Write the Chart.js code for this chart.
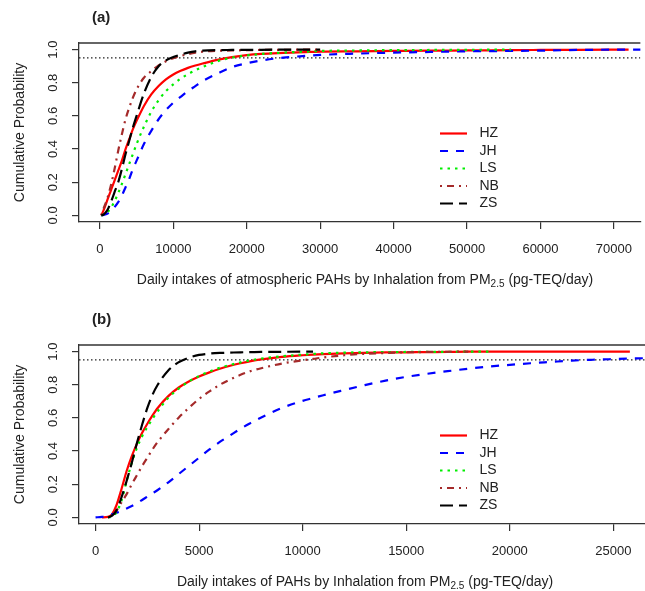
<!DOCTYPE html>
<html>
<head>
<meta charset="utf-8">
<script src="https://cdn.jsdelivr.net/npm/chart.js@4.4.0/dist/chart.umd.min.js"></script>
<style>
  body { margin: 0; background: #fff; }
  #wrap { position: relative; width: 645px; height: 591px; }
  canvas { position: absolute; left: 0; }
</style>
</head>
<body>
<div id="wrap">
  <canvas id="chartA" width="645" height="295" style="top:0"></canvas>
  <canvas id="chartB" width="645" height="296" style="top:295px"></canvas>
</div>
<script>
// series names (same in both panels)
const seriesNames = ['HZ', 'JH', 'LS', 'NB', 'ZS'];

// panel (a): intakes (pg-TEQ/day) and cumulative probabilities
const intakeA = [200, 500, 1000, 1500, 2000, 2500, 3000, 3500, 4000, 4500, 5000, 6000, 7000, 8000, 9000, 10000,
  11000, 12000, 13000, 14000, 16000, 18000, 20000, 22000, 25000, 28000, 30000, 35000, 40000, 45000, 50000,
  56000, 60000, 65000, 72000, 76000];
const hzA = [0, 0.03, 0.09, 0.15, 0.21, 0.27, 0.33, 0.40, 0.46, 0.52, 0.57, 0.66, 0.73, 0.78, 0.82, 0.85,
  0.872, 0.89, 0.904, 0.916, 0.938, 0.955, 0.967, 0.974, 0.98, 0.985, 0.988, 0.99, 0.992, 0.994, 0.995,
  0.997, 0.998, 0.999, 1.0, null];
const jhA = [0, 0.003, 0.01, 0.025, 0.05, 0.08, 0.12, 0.17, 0.22, 0.28, 0.33, 0.43, 0.51, 0.58, 0.635, 0.68,
  0.715, 0.75, 0.78, 0.81, 0.855, 0.895, 0.918, 0.935, 0.952, 0.962, 0.968, 0.976, 0.982, 0.986, 0.99,
  0.992, 0.994, 0.998, 1.0, 1.0];
const lsA = [0, 0.005, 0.02, 0.045, 0.085, 0.135, 0.19, 0.25, 0.31, 0.37, 0.43, 0.535, 0.625, 0.695, 0.75, 0.79,
  0.825, 0.852, 0.875, 0.895, 0.93, 0.952, 0.965, 0.974, 0.982, 0.988, 0.992, 0.995, 0.997, 0.998, 0.999,
  1.0, null, null, null, null];
const nbA = [0, 0.04, 0.1, 0.18, 0.28, 0.39, 0.49, 0.58, 0.65, 0.71, 0.76, 0.83, 0.87, 0.905, 0.93, 0.948,
  0.962, 0.973, 0.982, 0.988, 0.993, 0.995, 0.997, 0.998, 0.999, 1.0, 1.0, null, null, null, null,
  null, null, null, null, null];
const zsA = [0, 0.005, 0.03, 0.08, 0.14, 0.2, 0.28, 0.37, 0.45, 0.53, 0.6, 0.735, 0.835, 0.9, 0.935, 0.955,
  0.97, 0.982, 0.99, 0.994, 0.997, 0.998, 0.999, 0.999, 1.0, 1.0, 1.0, null, null, null, null,
  null, null, null, null, null];
const xTicksA = [0, 10000, 20000, 30000, 40000, 50000, 60000, 70000];

// panel (b)
const intakeB = [0, 300, 600, 800, 1000, 1250, 1500, 1750, 2000, 2250, 2500, 2750, 3000, 3500, 4000, 4500,
  5000, 5500, 6000, 6500, 7000, 7500, 8000, 9000, 10000, 10500, 11000, 12000, 13000, 14000, 15000, 16000,
  17000, 18000, 19000, 20000, 21000, 22000, 23000, 24000, 25000, 25800, 27000];
const hzB = [null, 0, 0.003, 0.02, 0.07, 0.17, 0.28, 0.37, 0.445, 0.51, 0.565, 0.615, 0.66, 0.73, 0.782, 0.82,
  0.85, 0.875, 0.897, 0.915, 0.93, 0.943, 0.953, 0.968, 0.978, 0.982, 0.985, 0.99, 0.993, 0.995, 0.996, 0.997,
  0.998, 1.0, 1.0, 1.0, 1.0, 1.0, 1.0, 1.0, 1.0, 1.0, null];
const jhB = [0, 0.003, 0.01, 0.018, 0.027, 0.04, 0.054, 0.069, 0.086, 0.105, 0.125, 0.145, 0.165, 0.21, 0.26, 0.31,
  0.36, 0.41, 0.455, 0.495, 0.535, 0.57, 0.603, 0.66, 0.703, 0.72, 0.737, 0.768, 0.798, 0.825, 0.848, 0.866,
  0.882, 0.897, 0.91, 0.92, 0.93, 0.938, 0.946, 0.951, 0.955, 0.958, 0.962];
const lsB = [null, null, 0, 0.005, 0.03, 0.1, 0.22, 0.33, 0.42, 0.49, 0.545, 0.595, 0.64, 0.72, 0.775, 0.82,
  0.853, 0.88, 0.902, 0.92, 0.935, 0.948, 0.958, 0.972, 0.982, 0.986, 0.99, 0.994, 0.996, 0.997, 0.998, 0.999,
  0.999, 1.0, 1.0, null, null, null, null, null, null, null, null];
const nbB = [null, null, 0, 0.01, 0.04, 0.09, 0.14, 0.2, 0.255, 0.31, 0.36, 0.41, 0.455, 0.53, 0.6, 0.66,
  0.715, 0.76, 0.8, 0.832, 0.86, 0.883, 0.9, 0.928, 0.948, 0.956, 0.965, 0.978, 0.987, 0.992, 0.996, 0.998,
  0.999, 1.0, null, null, null, null, null, null, null, null, null];
const zsB = [null, null, 0, 0.01, 0.04, 0.12, 0.22, 0.33, 0.45, 0.56, 0.66, 0.74, 0.8, 0.885, 0.935, 0.963,
  0.98, 0.988, 0.992, 0.994, 0.996, 0.997, 0.998, 0.999, 1.0, 1.0, null, null, null, null, null, null,
  null, null, null, null, null, null, null, null, null, null, null];
const xTicksB = [0, 5000, 10000, 15000, 20000, 25000];

const yTicks = [0, 0.2, 0.4, 0.6, 0.8, 1.0];
const refLevel = 0.95;

// R like line styles
const colors = ['#ff0000', '#0000ff', '#00ee00', '#a52a2a', '#000000'];
const dashes = [[], [8, 8], [2.5, 5], [2, 5, 7, 5], [13, 6]];
const FONT = '"Liberation Sans", Arial, sans-serif';

const rPlot = {
  id: 'rPlot',
  afterDraw(chart, args, o) {
    const ctx = chart.ctx, a = chart.chartArea, ys = chart.scales.y;
    ctx.save();
    // top of the box
    ctx.strokeStyle = '#333';
    ctx.lineWidth = 1.3;
    ctx.beginPath(); ctx.moveTo(a.left, a.top); ctx.lineTo(a.right, a.top); ctx.stroke();

    ctx.fillStyle = '#222';
    ctx.textBaseline = 'middle';
    // y tick labels, turned like R
    ctx.font = '13px ' + FONT;
    ctx.textAlign = 'center';
    yTicks.forEach(v => {
      ctx.save();
      ctx.translate(53, ys.getPixelForValue(v));
      ctx.rotate(-Math.PI / 2);
      ctx.fillText(v.toFixed(1), 0, 0);
      ctx.restore();
    });
    // y title
    ctx.font = '14px ' + FONT;
    ctx.save();
    ctx.translate(20, (a.top + a.bottom) / 2);
    ctx.rotate(-Math.PI / 2);
    ctx.fillText('Cumulative Probability', 0, 0);
    ctx.restore();

    // x title with subscript
    ctx.textAlign = 'left';
    const main = '14px ' + FONT, sub = '10px ' + FONT;
    ctx.font = main; const w1 = ctx.measureText(o.xTitle[0]).width, w3 = ctx.measureText(o.xTitle[2]).width;
    ctx.font = sub; const w2 = ctx.measureText(o.xTitle[1]).width;
    let x = 365 - (w1 + w2 + w3) / 2;
    const ty = a.bottom + 58;
    ctx.font = main; ctx.fillText(o.xTitle[0], x, ty); x += w1;
    ctx.font = sub; ctx.fillText(o.xTitle[1], x, ty + 4); x += w2;
    ctx.font = main; ctx.fillText(o.xTitle[2], x, ty);

    // panel tag
    ctx.font = 'bold 15px ' + FONT;
    ctx.fillText(o.tag, 92, a.top - 25.5);

    // legend
    ctx.font = '14px ' + FONT;
    seriesNames.forEach((name, i) => {
      const ly = a.top + 90.5 + i * 17.5;
      ctx.strokeStyle = colors[i];
      ctx.lineWidth = 2.2;
      ctx.setLineDash(dashes[i]);
      ctx.beginPath(); ctx.moveTo(440, ly); ctx.lineTo(467, ly); ctx.stroke();
      ctx.setLineDash([]);
      ctx.fillStyle = '#222';
      ctx.fillText(name, 479.5, ly);
    });
    ctx.restore();
  }
};

function makePanel(id, intake, series, xTicks, xMin, xMax, top, bottomH, tag, xTitle) {
  const datasets = series.map((p, i) => ({
    label: seriesNames[i],
    data: intake.map((v, k) => ({ x: v, y: p[k] })),
    borderColor: colors[i],
    borderDash: dashes[i],
    borderWidth: 2.2,
    pointRadius: 0,
    cubicInterpolationMode: 'monotone',
    spanGaps: false,
    order: 5 - i
  }));
  datasets.push({
    label: 'ref',
    data: [{ x: xMin, y: refLevel }, { x: xMax, y: refLevel }],
    borderColor: '#222',
    borderDash: [1.5, 2.5],
    borderWidth: 1.2,
    pointRadius: 0,
    order: 10
  });
  return new Chart(document.getElementById(id), {
    type: 'line',
    data: { datasets },
    plugins: [rPlot],
    options: {
      responsive: false,
      animation: false,
      devicePixelRatio: 1,
      layout: { padding: { top: top, left: 0, right: 0, bottom: 0 } },
      plugins: {
        legend: { display: false },
        tooltip: { enabled: false },
        rPlot: { tag, xTitle }
      },
      scales: {
        x: {
          type: 'linear',
          min: xMin,
          max: xMax,
          afterBuildTicks: s => { s.ticks = xTicks.map(v => ({ value: v })); },
          afterFit: s => { s.height = bottomH; },
          grid: { display: true, drawOnChartArea: false, tickLength: 7, color: '#333', lineWidth: 1.2 },
          border: { display: true, color: '#333', width: 1.3 },
          ticks: {
            autoSkip: false, maxRotation: 0, padding: 13, color: '#222',
            font: { size: 13, family: FONT },
            callback: v => String(v)
          }
        },
        y: {
          type: 'linear',
          min: -0.04,
          max: 1.04,
          afterBuildTicks: s => { s.ticks = yTicks.map(v => ({ value: v })); },
          afterFit: s => { s.width = 79; },
          grid: { display: true, drawOnChartArea: false, tickLength: 7, color: '#333', lineWidth: 1.2 },
          border: { display: true, color: '#333', width: 1.3 },
          ticks: { display: false }
        }
      }
    }
  });
}

document.addEventListener('DOMContentLoaded', function () {
  makePanel('chartA', intakeA, [hzA, jhA, lsA, nbA, zsA], xTicksA, -2840, 73600, 43, 73, '(a)',
    ['Daily intakes of atmospheric PAHs by Inhalation from PM', '2.5', ' (pg-TEQ/day)']);
  makePanel('chartB', intakeB, [hzB, jhB, lsB, nbB, zsB], xTicksB, -800, 26530, 50, 67, '(b)',
    ['Daily intakes of PAHs by Inhalation from PM', '2.5', ' (pg-TEQ/day)']);
});
</script>
</body>
</html>
